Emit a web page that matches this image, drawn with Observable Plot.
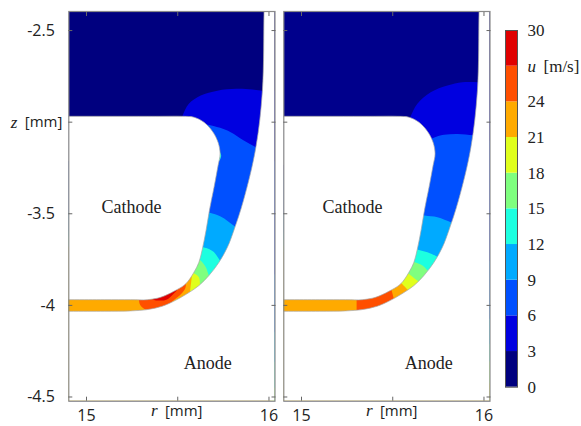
<!DOCTYPE html>
<html>
<head>
<meta charset="utf-8">
<script src="https://cdn.jsdelivr.net/npm/d3@7"></script>
<script src="https://cdn.jsdelivr.net/npm/@observablehq/plot@0.6"></script>
<style>
html,body{margin:0;padding:0;background:#fff}
#chart{position:relative;width:581px;height:426px;overflow:hidden}
#chart svg{position:absolute;top:0;background:transparent;overflow:visible}
</style>
</head>
<body>
<div id="chart"></div>
<script>
// Scales and ticks
const rDomain = [14.903, 16.033];
const zDomain = [-4.523, -2.396];
const rTicks = [15, 15.5, 16];
const rTickLabels = ["15", "", "16"];
const zTicks = [-2.5, -3, -3.5, -4, -4.5];
const zTickLabels = ["-2.5", "", "-3.5", "-4", "-4.5"];
const uEdges = [0, 3, 6, 9, 12, 15, 18, 21, 24, 27, 30];
const uThresholds = [3, 6, 9, 12, 15, 18, 21, 24, 27];
const uColors = ["#00007f", "#0000e0", "#0050ff", "#00aaff", "#1dffe0", "#7fff7f", "#e0ff1d", "#ffaa00", "#ff4f00", "#e00000"];
const uTicks = [30, 27, 24, 21, 18, 15, 12, 9, 6, 3, 0];
const uTickLabels = ["30", "", "24", "21", "18", "15", "12", "9", "6", "3", "0"];

// Electrode walls [r, z]
const cathodeWall = [[14,-2.968],[14.6,-2.968],[15.2,-2.968],[15.4,-2.968],[15.525,-2.968],[15.589,-2.973],[15.644,-3.001],[15.690,-3.050],[15.721,-3.110],[15.732,-3.173],[15.721,-3.237],[15.699,-3.355],[15.684,-3.428],[15.671,-3.497],[15.655,-3.592],[15.635,-3.692],[15.616,-3.765],[15.589,-3.819],[15.543,-3.883],[15.479,-3.923],[15.406,-3.956],[15.333,-3.969],[15.242,-3.969],[15.1,-3.969],[14.901,-3.969],[14,-3.969]];
const anodeWall = [[15.978,-2.2],[15.973,-2.396],[15.964,-2.828],[15.928,-3.139],[15.860,-3.428],[15.807,-3.592],[15.772,-3.683],[15.726,-3.765],[15.671,-3.837],[15.616,-3.892],[15.550,-3.937],[15.477,-3.978],[15.414,-4.005],[15.333,-4.023],[15.242,-4.030],[15.1,-4.032],[14.901,-4.032],[14.5,-4.032],[14,-4.032],[14,-6],[17,-6],[17,-2.2]];
const outerClosure = [[17,-6],[14,-6],[14,-3.5]];

// Left panel contours of u [r, z]
const leftU3 = [[15.505,-3.019],[15.525,-2.968],[15.561,-2.900],[15.626,-2.855],[15.717,-2.828],[15.822,-2.818],[15.909,-2.822],[15.966,-2.828],[16.037,-2.833]];
const leftU6 = [[15.596,-2.991],[15.660,-3.013],[15.732,-3.031],[15.790,-3.055],[15.862,-3.100],[15.929,-3.137],[15.999,-3.171]];
const leftU9 = [[15.615,-3.477],[15.675,-3.495],[15.735,-3.515],[15.814,-3.570],[15.873,-3.614]];
const leftU12 = [[15.582,-3.668],[15.640,-3.683],[15.671,-3.692],[15.699,-3.710],[15.732,-3.756],[15.768,-3.799]];
const leftU15 = [[15.571,-3.717],[15.622,-3.753],[15.653,-3.790],[15.671,-3.838],[15.686,-3.870]];
const leftU18 = [[15.549,-3.810],[15.593,-3.828],[15.616,-3.847],[15.622,-3.892],[15.623,-3.936]];
const leftU21 = [[15.576,-3.816],[15.576,-3.852],[15.571,-3.892],[15.567,-3.929],[15.560,-3.974]];
const leftU24 = [[15.285,-3.930],[15.287,-3.971],[15.296,-4.001],[15.333,-4.029],[15.406,-4.040],[15.452,-4.001],[15.470,-3.979],[15.520,-3.937],[15.543,-3.901],[15.538,-3.865],[15.406,-3.865]];
const leftU27 = [[15.351,-3.930],[15.362,-3.966],[15.404,-3.974],[15.441,-3.968],[15.476,-3.938],[15.499,-3.911],[15.491,-3.876],[15.404,-3.876]];
const leftSpot = [[15.727,-3.155],[15.738,-3.182],[15.727,-3.210],[15.713,-3.182]];

// Right panel contours of u [r, z]
const rightU3 = [[15.571,-3.035],[15.594,-2.977],[15.635,-2.900],[15.708,-2.837],[15.800,-2.800],[15.882,-2.782],[15.968,-2.782],[16.037,-2.784]];
const rightU6 = [[15.670,-3.106],[15.721,-3.086],[15.781,-3.069],[15.855,-3.064],[15.942,-3.072],[16.010,-3.079]];
const rightU9 = [[15.615,-3.494],[15.675,-3.510],[15.745,-3.519],[15.821,-3.547],[15.883,-3.570]];
const rightU12 = [[15.582,-3.679],[15.638,-3.696],[15.690,-3.710],[15.739,-3.732],[15.790,-3.768]];
const rightU15 = [[15.560,-3.745],[15.622,-3.765],[15.663,-3.783],[15.696,-3.814],[15.747,-3.859]];
const rightU18 = [[15.538,-3.799],[15.586,-3.828],[15.616,-3.850],[15.643,-3.870],[15.691,-3.908]];
const rightU21 = [[15.505,-3.848],[15.547,-3.879],[15.565,-3.897],[15.589,-3.923],[15.626,-3.963]];
const rightU24 = [[15.302,-3.908],[15.302,-3.968],[15.302,-4.034],[15.302,-4.072],[15.519,-4.007],[15.510,-3.978],[15.494,-3.919],[15.486,-3.886]];

const cathodeLabelR = [15.247, 15.28];
const anodeLabelR = [15.664, 15.697];
const cathodeLabelZ = -3.466;
const anodeLabelZ = -4.318;

const colorOptions = {type: "threshold", domain: uThresholds, range: uColors};
const solid = "#ffffff";
const edge = "#a6a6a6";
const frameStroke = "#8a8a8a";
const sansFont = "'Open Sans'";
const serifFont = "'Liberation Serif'";

function rows(points, id, u) {
  return points.map(([r, z]) => ({r, z, id, u}));
}
function openToDownstream(points, id, u) {
  return rows(points.concat(outerClosure), id, u);
}

function panel(bands, spots, blobs, index, baseFill, withZ, left, width, marginLeft, marginRight) {
  const data = [
    ...bands.flatMap(([pts, u], i) => openToDownstream(pts, "b" + i, u)),
    ...spots.flatMap(([pts, u], i) => rows(pts, "s" + i, u)),
    ...blobs.flatMap(([pts, u], i) => rows(pts, "c" + i, u))
  ];
  const labelZ = zTicks.filter((d, i) => zTickLabels[i]);
  const marks = [
    Plot.frame({fill: baseFill, stroke: "none"}),
    Plot.line(data, {x: "r", y: "z", z: "id", fill: "u", stroke: "none", curve: "catmull-rom", clip: true}),
    Plot.line(rows(cathodeWall, "cathode", 0), {x: "r", y: "z", fill: solid, stroke: edge, strokeWidth: 0.7, curve: "catmull-rom", clip: true}),
    Plot.line(rows(anodeWall, "anode", 0), {x: "r", y: "z", fill: solid, stroke: edge, strokeWidth: 0.7, curve: "catmull-rom", clip: true}),
    Plot.frame({stroke: frameStroke, strokeWidth: 1.2}),
    Plot.axisX(rTicks, {anchor: "bottom", tickSize: -4, tickPadding: 12, label: null, tickFormat: d => rTickLabels[rTicks.indexOf(d)], fontSize: 16, fontFamily: sansFont, fill: "#222", stroke: "#666"}),
    Plot.axisX(rTicks, {anchor: "top", tickSize: -4, label: null, tickFormat: () => "", stroke: "#666"}),
    Plot.axisY(zTicks, {anchor: "right", tickSize: -4, label: null, tickFormat: () => "", stroke: "#666"}),
    Plot.axisY(zTicks, {anchor: "left", tickSize: -4, label: null, tickFormat: () => "", stroke: "#666"}),
    Plot.text(["r"], {x: 15.5, frameAnchor: "bottom", dy: 15, dx: -20, text: d => d, textAnchor: "end", fontSize: 17, fontStyle: "italic", fontFamily: serifFont, fill: "#222"}),
    Plot.text(["[mm]"], {x: 15.5, frameAnchor: "bottom", dy: 15, dx: 6, text: d => d, fontSize: 15, fontFamily: sansFont, fill: "#222"}),
    Plot.text(["Cathode"], {x: cathodeLabelR[index], y: cathodeLabelZ, text: d => d, fontSize: 18, fontFamily: serifFont, fill: "#222"}),
    Plot.text(["Anode"], {x: anodeLabelR[index], y: anodeLabelZ, text: d => d, fontSize: 18, fontFamily: serifFont, fill: "#222"})
  ];
  if (withZ) {
    marks.push(
      Plot.text(labelZ, {y: d => d, frameAnchor: "left", dx: -14, text: d => zTickLabels[zTicks.indexOf(d)], textAnchor: "end", fontSize: 16, fontFamily: sansFont, fill: "#222"}),
      Plot.text(["z"], {y: -3, frameAnchor: "left", dx: -58, text: d => d, textAnchor: "start", fontSize: 17, fontStyle: "italic", fontFamily: serifFont, fill: "#222"}),
      Plot.text(["[mm]"], {y: -3, frameAnchor: "left", dx: -44, text: d => d, textAnchor: "start", fontSize: 15, fontFamily: sansFont, fill: "#222"})
    );
  }
  const svg = Plot.plot({
    width, height: 426, marginLeft, marginRight, marginTop: 11, marginBottom: 25.3,
    x: {domain: rDomain, axis: null},
    y: {domain: zDomain, axis: null},
    color: colorOptions,
    marks
  });
  svg.style.left = left + "px";
  return svg;
}

const chart = document.getElementById("chart");
chart.append(panel(
  [[leftU3, 4.5], [leftU6, 7.5], [leftU9, 10.5], [leftU12, 13.5], [leftU15, 16.5], [leftU18, 19.5], [leftU21, 22.5]],
  [[leftSpot, 13.5]],
  [[leftU24, 25.5], [leftU27, 28.5]],
  0, "#00007f", true, 0, 280, 68.3, 5.5
));
chart.append(panel(
  [[rightU3, 4.5], [rightU6, 7.5], [rightU9, 10.5], [rightU12, 13.5], [rightU15, 16.5], [rightU18, 19.5], [rightU21, 22.5]],
  [],
  [[rightU24, 25.5]],
  1, "#00008c", false, 280, 215, 3.3, 5.5
));

const uBands = uEdges.slice(0, -1).map((lo, i) => ({lo, hi: uEdges[i + 1]}));
const bar = Plot.plot({
  width: 86, height: 426, marginLeft: 10, marginRight: 64, marginTop: 30, marginBottom: 39.3,
  x: {axis: null},
  y: {domain: [0, 30], axis: null},
  color: colorOptions,
  marks: [
    Plot.barY(uBands, {y1: "lo", y2: "hi", fill: d => (d.lo + d.hi) / 2}),
    Plot.frame({stroke: "#555"}),
    Plot.text(uTicks.filter((d, i) => uTickLabels[i]), {y: d => d, frameAnchor: "left", dx: 22, textAnchor: "start", text: d => uTickLabels[uTicks.indexOf(d)], fontSize: 17, fontFamily: serifFont, fill: "#222"}),
    Plot.text(["u"], {y: 27, frameAnchor: "left", dx: 22, textAnchor: "start", text: d => d, fontSize: 17, fontStyle: "italic", fontFamily: serifFont, fill: "#222"}),
    Plot.text(["[m/s]"], {y: 27, frameAnchor: "left", dx: 38, textAnchor: "start", text: d => d, fontSize: 17, fontFamily: serifFont, fill: "#222"})
  ]
});
bar.style.left = "495px";
chart.append(bar);
</script>
</body>
</html>
